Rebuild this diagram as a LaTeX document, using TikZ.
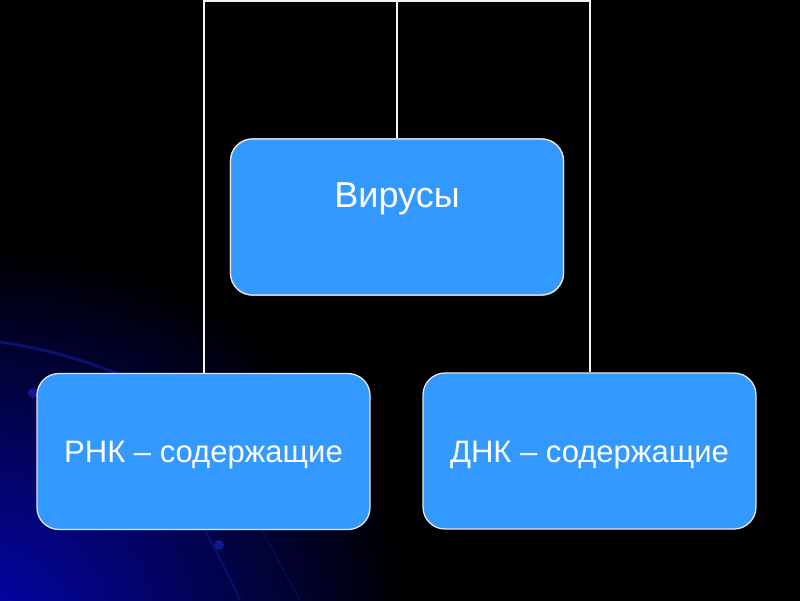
\documentclass[tikz,border=0pt]{standalone}
\usepackage{fontspec}
\setmainfont{Liberation Sans}
\definecolor{boxblue}{RGB}{52,153,255}
\definecolor{glow}{RGB}{5,5,175}
\definecolor{streak}{RGB}{15,25,140}
\begin{document}
\begin{tikzpicture}[x=1pt,y=-1pt,
  box/.style={draw=white!80!gray, line width=1.3pt, fill=boxblue, rounded corners=22pt,
    minimum width=333pt, minimum height=156pt, inner sep=0pt},
  boxtext/.style={text=white, anchor=base, inner sep=0pt},
  link/.style={draw=white!92!gray, line width=2pt}]
\useasboundingbox (0,0) rectangle (800,600);
\fill[black] (-10,-10) rectangle (810,610);
\begin{scope}
  \clip (-5,-5) rectangle (805,605);
  \shade[inner color=glow, outer color=black] (-20,625) ellipse (430pt and 380pt);
  \draw[streak, line width=3pt, opacity=0.7] (0,342) .. controls (40,348) and (80,358) .. (120,375);
  \draw[streak, line width=2pt, opacity=0.6] (205,530) .. controls (218,555) and (230,578) .. (240,600);
  \draw[streak, line width=1.5pt, opacity=0.4] (262,530) .. controls (275,555) and (288,578) .. (300,600);
  \fill[streak] (33,393) circle (5pt);
  \fill[streak] (219,545) circle (5pt);
\end{scope}
\coordinate (tm) at (397,1);
\node[box] (vir) at (397,217) {};
\node[box] (rnk) at (203.5,451.5) {};
\node[box] (dnk) at (589.5,451) {};
\draw[link] (rnk.north) |- (tm) -| (dnk.north);
\draw[link] (tm) -- (vir.north);
\node[box] at (vir) {};
\node[boxtext, font=\fontsize{36}{40}\selectfont] (virt) at (397,207) {Вирусы};
\node[boxtext, font=\fontsize{31}{36}\selectfont] (rnkt) at (203.5,462) {РНК – содержащие};
\node[boxtext, font=\fontsize{31}{36}\selectfont] (dnkt) at (589.5,462) {ДНК – содержащие};
\end{tikzpicture}
\end{document}
